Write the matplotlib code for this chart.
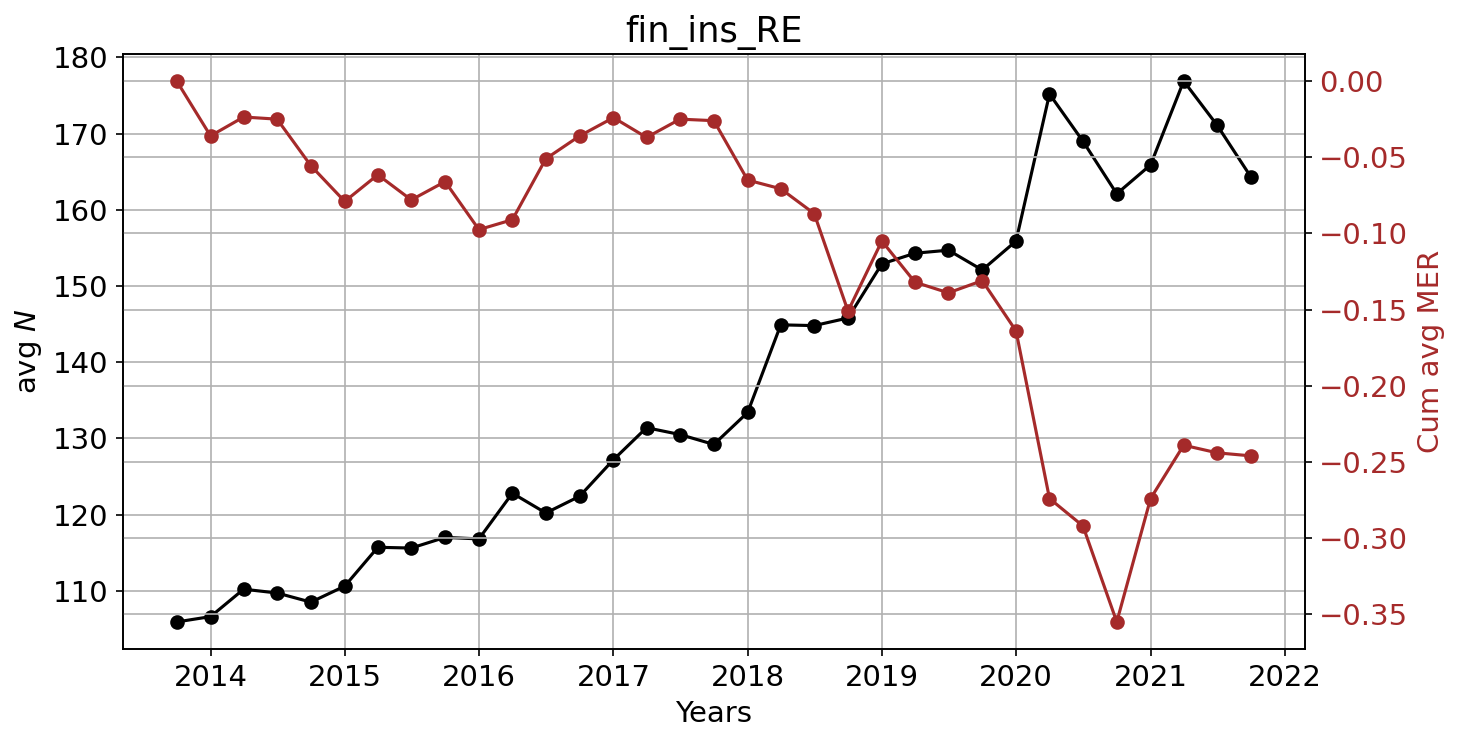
import matplotlib
matplotlib.use("Agg")
import matplotlib.pyplot as plt
import pandas as pd

# quarterly dates, Q4 2013 .. Q4 2021
dates = pd.date_range("2013-10-01", periods=33, freq="QS")

# avg N (left axis)
avg_n = [105.9, 106.6, 110.2, 109.7, 108.5, 110.6, 115.7, 115.6, 117.0, 116.8,
         122.8, 120.2, 122.4, 127.2, 131.4, 130.5, 129.2, 133.4, 144.9, 144.8,
         145.8, 152.9, 154.3, 154.7, 152.1, 155.9, 175.2, 169.0, 162.1, 165.9,
         176.9, 171.1, 164.3]

# cumulative avg MER (right axis)
cum_mer = [0.000, -0.036, -0.0236, -0.025, -0.0556, -0.079, -0.0615, -0.078,
           -0.066, -0.0975, -0.091, -0.051, -0.036, -0.024, -0.037, -0.025,
           -0.026, -0.065, -0.0707, -0.087, -0.151, -0.105, -0.132, -0.139,
           -0.131, -0.164, -0.274, -0.292, -0.355, -0.274, -0.239, -0.244,
           -0.246]

fs = 14
fig = plt.figure(figsize=(9.74, 4.96), dpi=150)
ax = fig.add_axes([0.0842, 0.1277, 0.8088, 0.7997])
ax.plot(dates, avg_n, "o-", color="black")
ax.set_ylabel("avg $N$", fontsize=fs)
ax.set_xlabel("Years", fontsize=fs)
ax.set_title("fin_ins_RE", fontsize=17)
ax.tick_params(labelsize=fs)
ax.grid(True)

# second series on a twin axis
ax2 = ax.twinx()
ax2.plot(dates, cum_mer, "o-", color="brown")
ax2.set_ylabel("Cum avg MER", color="brown", fontsize=fs)
ax2.tick_params(axis="y", labelcolor="brown", labelsize=fs)
ax2.grid(True)

fig.savefig("out.png", dpi=150)
